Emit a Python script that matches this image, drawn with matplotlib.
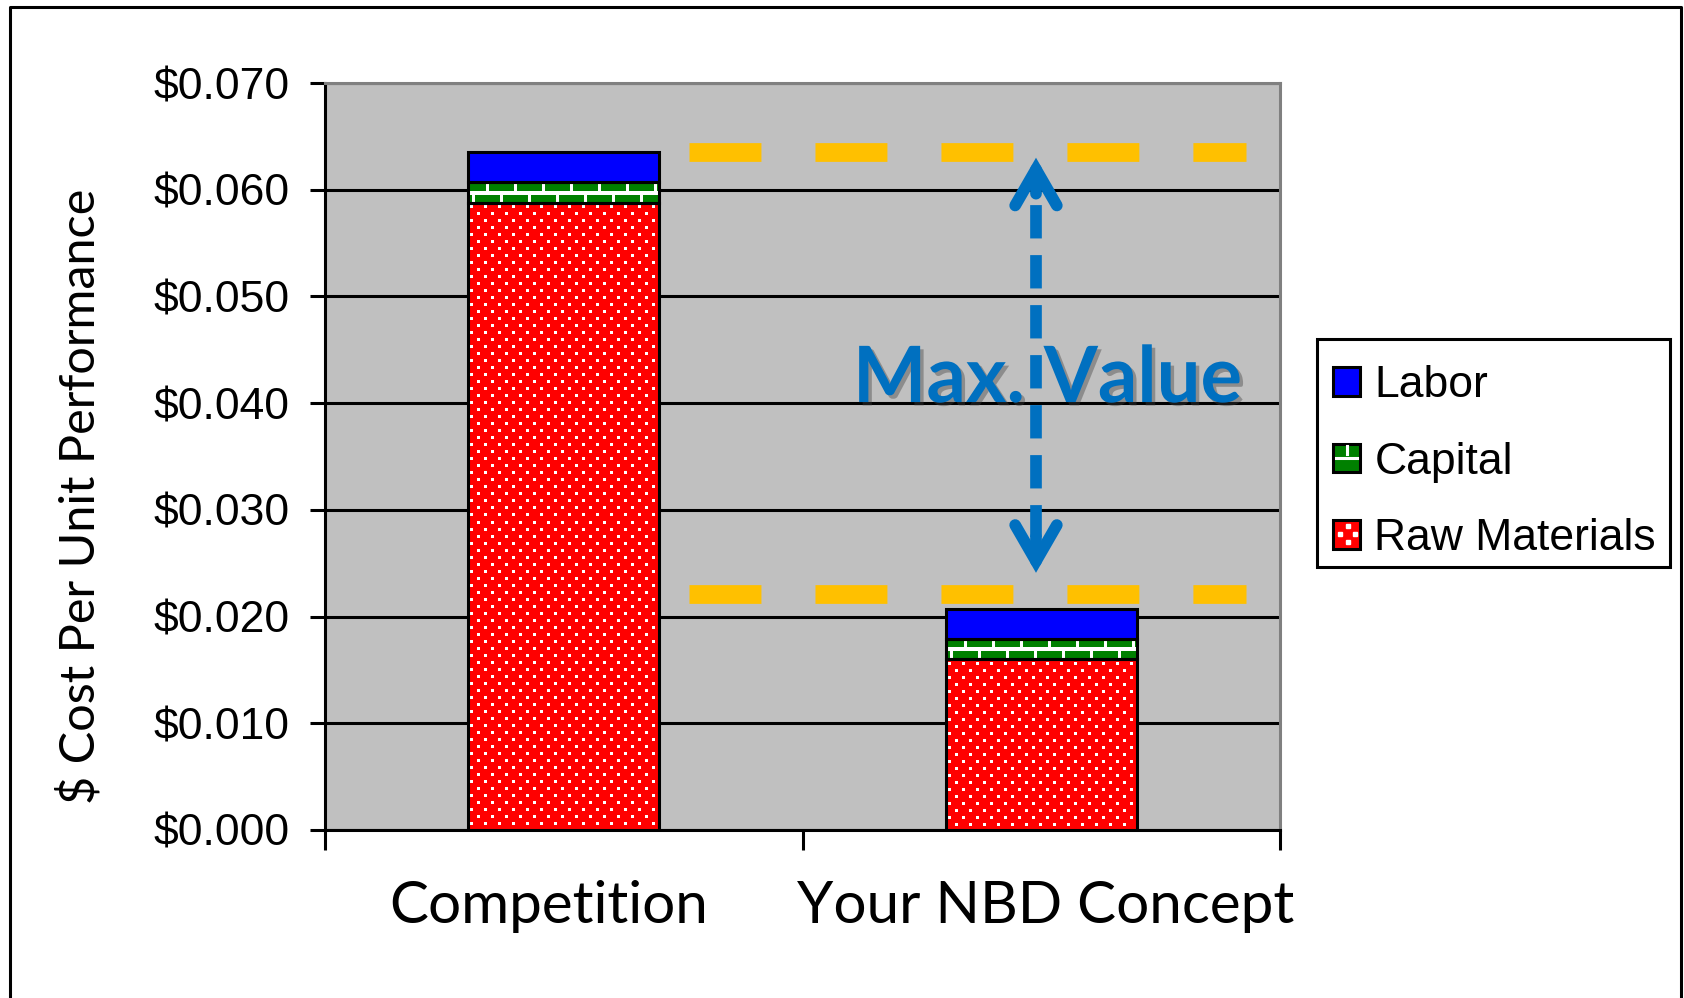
import numpy as np
import matplotlib
matplotlib.use("Agg")
import matplotlib.pyplot as plt
import matplotlib.patheffects as pe
from matplotlib.patches import Rectangle, Patch, FancyArrowPatch
from matplotlib.lines import Line2D
from matplotlib.legend_handler import HandlerBase
from matplotlib.transforms import ScaledTranslation

# ---- data -------------------------------------------------------------
categories = ["Competition", "Your NBD Concept"]
raw_materials = [0.0588, 0.0160]
capital = [0.0019, 0.0019]
labor = [0.0028, 0.0028]
target_cost = 0.0221
y_ticks = [0.000, 0.010, 0.020, 0.030, 0.040, 0.050, 0.060, 0.070]
series_names = ["Raw Materials", "Capital", "Labor"]

plt.rcParams["lines.scale_dashes"] = False

W, H = 1684, 998
fig = plt.figure(figsize=(W / 100, H / 100), dpi=100)
fig.patch.set_facecolor("white")
ax = fig.add_axes([325 / W, 1 - 830 / H, 955 / W, 747 / H])
ax.set_facecolor("#C0C0C0")
ax.set_xlim(-0.5, 1.5)
ax.set_ylim(0, 0.07)

BLACK_LW = 2.2

# ---- axes styling -----------------------------------------------------
ax.set_yticks(y_ticks)
ax.set_yticklabels([f"${v:.3f}" for v in y_ticks],
                   fontfamily="Liberation Sans", fontsize=32)
ax.tick_params(axis="y", direction="out", length=10.8, width=BLACK_LW,
               pad=15, color="black")
ax.yaxis.grid(True, color="black", linewidth=BLACK_LW)
ax.set_axisbelow(True)

x = np.arange(len(categories))
ax.set_xticks(x)
ax.set_xticklabels(categories, fontfamily="Lato", fontsize=42)
ax.tick_params(axis="x", which="major", length=0, pad=36)
ax.set_xticks([-0.5, 0.5, 1.5], minor=True)
ax.tick_params(axis="x", which="minor", direction="out", length=14.4,
               width=BLACK_LW, color="black")
# nudge the category labels slightly (pixel offsets)
for lbl, dx in zip(ax.get_xticklabels(), (-15, 4)):
    lbl.set_transform(lbl.get_transform()
                      + ScaledTranslation(dx / 100, 0, fig.dpi_scale_trans))

for side in ("left", "bottom"):
    ax.spines[side].set_color("black")
    ax.spines[side].set_linewidth(BLACK_LW)
for side in ("top", "right"):
    ax.spines[side].set_color("#808080")
    ax.spines[side].set_linewidth(BLACK_LW)

fig.text(80 / W, 1 - 496 / H, "$ Cost Per Unit Performance", rotation=90,
         ha="center", va="center", fontfamily="Lato", fontsize=35)


# ---- stacked bars with fill patterns ----------------------------------
def pattern(kind, w, h):
    img = np.zeros((h, w, 4))
    yy, xx = np.mgrid[0:h, 0:w]
    if kind == "dots":
        row = (yy + 4) // 7
        shift = (row % 2) * 7
        mask = (((yy + 4) % 7) < 3) & (((xx + 5 + shift) % 14) < 3)
    else:  # horizontal brick
        row = yy // 12
        mortar_h = (yy % 12) >= 9
        shift = (row % 2) * 14
        mortar_v = ((xx + 10 + shift) % 28) < 3
        mask = mortar_h | mortar_v
    img[mask] = (1, 1, 1, 1)
    return img


raw = np.array(raw_materials)
cap = np.array(capital)
lab = np.array(labor)
width = 0.4
stacks = [
    (raw, np.zeros_like(raw), "#FF0000", "dots"),
    (cap, raw, "#008000", "brick"),
    (lab, raw + cap, "#0000FF", None),
]
for vals, bottoms, color, kind in stacks:
    ax.bar(x, vals, width, bottom=bottoms, color=color, linewidth=0, zorder=3)
    if kind is not None:
        for xi, v, b in zip(x, vals, bottoms):
            (px0, py0), (px1, py1) = ax.transData.transform(
                [(xi - width / 2, b), (xi + width / 2, b + v)])
            w_px = max(int(round(px1 - px0)), 1)
            h_px = max(int(round(py1 - py0)), 1)
            ax.imshow(pattern(kind, w_px, h_px), interpolation="nearest",
                      aspect="auto", origin="upper", zorder=4,
                      extent=(xi - width / 2, xi + width / 2, b, b + v))
    ax.bar(x, vals, width, bottom=bottoms, fill=False, edgecolor="black",
           linewidth=BLACK_LW, zorder=5)

ax.set_xlim(-0.5, 1.5)
ax.set_ylim(0, 0.07)

# ---- reference levels -------------------------------------------------
competition_total = raw[0] + cap[0] + lab[0]
for level in (competition_total, target_cost):
    ax.plot([0.262, 1.429], [level, level], color="#FFC000", linewidth=13.5,
            linestyle=(0, (51.8, 38.9)), dash_capstyle="butt", zorder=6)

# ---- double arrow between the two levels -------------------------------
blue = "#0070C0"
xa = 0.989
arrow_top = 0.0630
arrow_bottom = 0.0241
head_seg = 36 * 0.07 / 747  # head length in data units
ax.plot([xa, xa], [arrow_top - head_seg, arrow_bottom + head_seg],
        color=blue, linewidth=8.4, linestyle=(28, (24, 12)),
        dash_capstyle="butt", zorder=7)
for tip, sgn in ((arrow_top, -1), (arrow_bottom, 1)):
    ax.add_patch(FancyArrowPatch(
        (xa, tip + sgn * head_seg), (xa, tip),
        arrowstyle="->,head_length=26,head_width=15", mutation_scale=1,
        linewidth=8.4, color=blue, capstyle="round", joinstyle="miter",
        shrinkA=0, shrinkB=0, zorder=7))

ax.text(1.013, 0.0401, "Max. Value", ha="center", va="baseline",
        fontfamily="Lato", fontweight="bold", fontsize=56, color=blue,
        zorder=8,
        path_effects=[pe.SimplePatchShadow(offset=(2.5, -2.5),
                                           shadow_rgbFace="#404040",
                                           alpha=0.4),
                      pe.Normal()])


# ---- legend -------------------------------------------------------------
class SwatchHandler(HandlerBase):
    def __init__(self, kind):
        super().__init__()
        self.kind = kind

    def create_artists(self, legend, orig_handle, xdescent, ydescent,
                       width, height, fontsize, trans):
        x0, y0 = -xdescent, -ydescent
        arts = [Rectangle((x0, y0), width, height,
                          facecolor=orig_handle.get_facecolor(),
                          edgecolor="black", linewidth=BLACK_LW,
                          transform=trans)]
        if self.kind == "brick":
            arts.append(Line2D([x0 + 0.1 * width, x0 + 0.9 * width],
                               [y0 + 0.5 * height] * 2, color="white",
                               linewidth=2.2, transform=trans))
            arts.append(Line2D([x0 + 0.5 * width] * 2,
                               [y0 + 0.62 * height, y0 + 0.9 * height],
                               color="white", linewidth=2.2,
                               transform=trans))
        elif self.kind == "dots":
            for fx, fy in ((0.55, 0.78), (0.25, 0.52), (0.8, 0.52),
                           (0.55, 0.25)):
                arts.append(Line2D([x0 + fx * width], [y0 + fy * height],
                                   marker="s", markersize=3.2,
                                   color="white", linestyle="none",
                                   transform=trans))
        return arts


handles, labels, hmap = [], [], {}
for (vals, bottoms, color, kind), name in reversed(list(zip(stacks, series_names))):
    h = Patch(facecolor=color, label=name)
    handles.append(h)
    labels.append(name)
    hmap[h] = SwatchHandler(kind)

leg = ax.legend(handles, labels, handler_map=hmap, loc="upper left",
                bbox_to_anchor=(1333 / W, 1 - 365 / H),
                bbox_transform=fig.transFigure, borderaxespad=0,
                prop={"family": "Liberation Sans", "size": 32},
                frameon=False, borderpad=0,
                handlelength=0.61, handleheight=0.61, handletextpad=0.32,
                labelspacing=0.80)

# legend frame
fig.add_artist(Rectangle((1317 / W, 1 - 567 / H), (1670 - 1317) / W,
                         (567 - 339) / H, transform=fig.transFigure,
                         facecolor="none", edgecolor="black",
                         linewidth=BLACK_LW))

# ---- outer frame --------------------------------------------------------
fig.add_artist(Line2D([10 / W, 10 / W, 1681 / W, 1681 / W],
                      [0, 1 - 7 / H, 1 - 7 / H, 0],
                      transform=fig.transFigure, color="black",
                      linewidth=BLACK_LW))

fig.savefig("out.png", dpi=100)
